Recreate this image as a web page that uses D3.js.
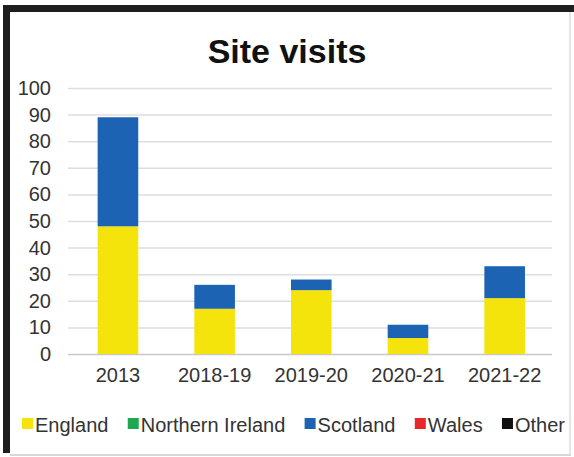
<!DOCTYPE html>
<html lang="en">
<head>
<meta charset="UTF-8">
<script src="https://d3js.org/d3.v7.min.js"></script>
<title>Site visits</title>
<style>
  body { margin: 0; background: #fff; }
  text { font-family: "Liberation Sans", Arial, sans-serif; }
</style>
</head>
<body>
<svg width="574" height="457"></svg>
<script>
// data
var years = ["2013", "2018-19", "2019-20", "2020-21", "2021-22"];
var england = [48, 17, 24, 6, 21];
var northernIreland = [0, 0, 0, 0, 0];
var scotland = [41, 9, 4, 5, 12];
var wales = [0, 0, 0, 0, 0];
var other = [0, 0, 0, 0, 0];
var seriesNames = ["England", "Northern Ireland", "Scotland", "Wales", "Other"];
var seriesColours = ["#f4e40c", "#1fa84f", "#1c64b3", "#e8262b", "#111111"];
var yTicks = [0, 10, 20, 30, 40, 50, 60, 70, 80, 90, 100];

var svg = d3.select("svg");

// frame round the chart
svg.append("rect").attr("x", 0).attr("y", 0).attr("width", 574).attr("height", 457).attr("fill", "#fff");
svg.append("rect").attr("x", 3).attr("y", 5).attr("width", 571).attr("height", 7).attr("fill", "#1e1e1e");
svg.append("rect").attr("x", 3).attr("y", 5).attr("width", 7).attr("height", 448).attr("fill", "#1e1e1e");
svg.append("line").attr("x1", 10).attr("x2", 571).attr("y1", 455).attr("y2", 455).attr("stroke", "#c8c8c8").attr("stroke-width", 1.5);
svg.append("line").attr("x1", 570).attr("x2", 570).attr("y1", 12).attr("y2", 455).attr("stroke", "#dcdcdc").attr("stroke-width", 1.5);

// title
svg.append("text").attr("x", 287).attr("y", 63).attr("text-anchor", "middle")
  .attr("font-size", 34).attr("font-weight", "bold").attr("fill", "#111").text("Site visits");

var y = d3.scaleLinear().domain([0, 100]).range([354, 88]);
var x = d3.scaleBand().domain(years).range([69.6, 553]).paddingInner(0.58).paddingOuter(0.29);

// gridlines + y labels
var yAxis = svg.append("g").attr("transform", "translate(68,0)")
  .call(d3.axisLeft(y).tickValues(yTicks).tickSizeInner(-484).tickSizeOuter(0).tickPadding(17));
yAxis.select(".domain").remove();
yAxis.selectAll("line").attr("stroke", function(d){ return d === 0 ? "#c8c8c8" : "#dedede"; }).attr("stroke-width", 1.5);
yAxis.selectAll("text").attr("font-size", 20).attr("fill", "#333").attr("font-family", "Liberation Sans, Arial, sans-serif");

// stacked bars
var rows = years.map(function(yr, i) {
  return { year: yr, "England": england[i], "Northern Ireland": northernIreland[i],
           "Scotland": scotland[i], "Wales": wales[i], "Other": other[i] };
});
var stack = d3.stack().keys(seriesNames)(rows);
var colour = d3.scaleOrdinal(seriesNames, seriesColours);

svg.append("g").selectAll("g").data(stack).enter().append("g")
  .attr("fill", function(d){ return colour(d.key); })
  .selectAll("rect").data(function(d){ return d; }).enter().append("rect")
  .attr("x", function(d){ return x(d.data.year); })
  .attr("width", x.bandwidth())
  .attr("y", function(d){ return y(d[1]); })
  .attr("height", function(d){ return y(d[0]) - y(d[1]); });

// x labels
var xAxis = svg.append("g").attr("transform", "translate(0,354)")
  .call(d3.axisBottom(x).tickSize(0).tickPadding(14));
xAxis.select(".domain").remove();
xAxis.selectAll("text").attr("font-size", 20).attr("fill", "#333").attr("font-family", "Liberation Sans, Arial, sans-serif");

// legend, laid out from measured text widths
var legend = svg.append("g");
var items = legend.selectAll("g").data(seriesNames).enter().append("g");
items.append("rect").attr("width", 11).attr("height", 11).attr("y", -14)
  .attr("fill", function(d){ return colour(d); });
items.append("text").attr("x", 13).attr("font-size", 20).attr("fill", "#333").text(function(d){ return d; });
var widths = [];
items.selectAll("text").each(function(){ widths.push(this.getComputedTextLength() + 13); });
var total = d3.sum(widths);
var gap = (543 - total) / 4;
var pos = 22;
items.attr("transform", function(d, i){
  var t = "translate(" + pos + ",432)";
  pos += widths[i] + gap;
  return t;
});
</script>
</body>
</html>
